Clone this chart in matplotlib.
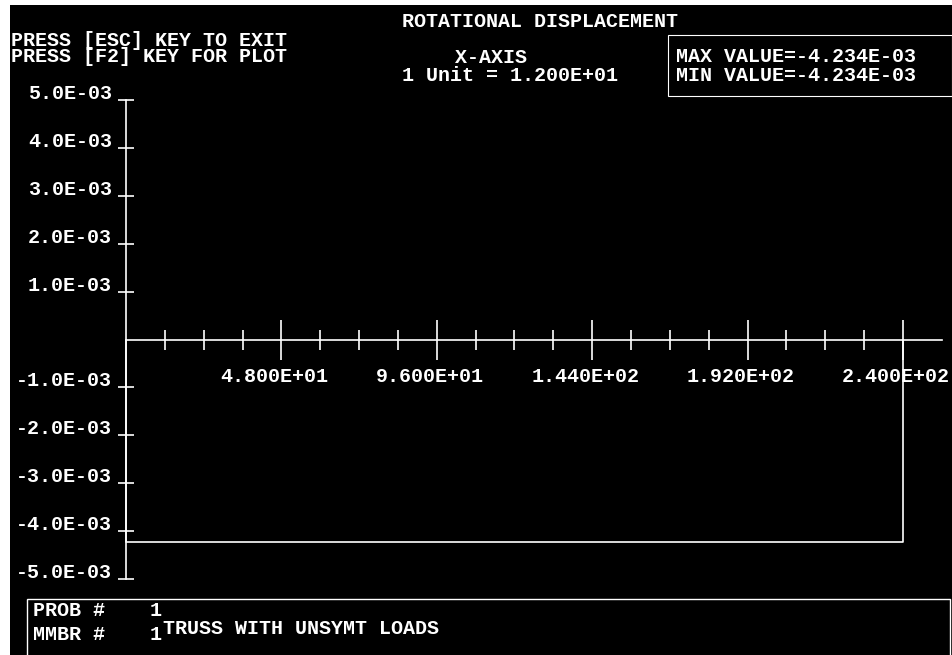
import matplotlib
matplotlib.use('Agg')
import matplotlib.pyplot as plt
from matplotlib.patches import Rectangle

W, H = 953, 655

# values
x_major = [48, 96, 144, 192, 240]
x_major_labels = ['4.800E+01', '9.600E+01', '1.440E+02', '1.920E+02', '2.400E+02']
x_minor = [12, 24, 36, 60, 72, 84, 108, 120, 132, 156, 168, 180, 204, 216, 228]
y_ticks = [5e-3, 4e-3, 3e-3, 2e-3, 1e-3, -1e-3, -2e-3, -3e-3, -4e-3, -5e-3]
y_labels = ['5.0E-03', '4.0E-03', '3.0E-03', '2.0E-03', '1.0E-03',
            '-1.0E-03', '-2.0E-03', '-3.0E-03', '-4.0E-03', '-5.0E-03']
member_x = [0, 0, 240, 240]
member_rot = [0, -4.234e-3, -4.234e-3, 0]

FONT = ['Liberation Mono', 'DejaVu Sans Mono']
FS = 14.4


def fx(px):
    return px / W


def fy(py):
    return 1 - py / H


fig = plt.figure(figsize=(W / 100, H / 100), dpi=100, facecolor='black')

# scan edge (white strip at top and left)
fig.patches.append(Rectangle((0, fy(5)), 1, 5 / H, transform=fig.transFigure,
                             facecolor='white', edgecolor='none'))
fig.patches.append(Rectangle((0, 0), fx(10), 1, transform=fig.transFigure,
                             facecolor='white', edgecolor='none'))

# plot area: x=0 at px 126, x=240 at px 903; y=+5e-3 at px 100, -5e-3 at px 579
ppu = (903 - 126) / 240
ax = fig.add_axes([fx(126), fy(579), (942 - 126) / W, (579 - 100) / H])
ax.set_xlim(0, (942 - 126) / ppu)
ax.set_ylim(-5e-3, 5e-3)
ax.axis('off')

lw = 1.2
ax.plot([0, (942 - 126) / ppu], [0, 0], color='white', lw=lw, clip_on=False)
ax.plot([0, 0], [-5e-3, 5e-3], color='white', lw=lw, clip_on=False)
ax.plot(x_minor, [0] * len(x_minor), ls='none', marker='|', ms=14.4, mew=lw,
        color='white', clip_on=False)
ax.plot(x_major, [0] * len(x_major), ls='none', marker='|', ms=29, mew=lw,
        color='white', clip_on=False)
ax.plot([0] * len(y_ticks), y_ticks, ls='none', marker='_', ms=11.5, mew=lw,
        color='white', clip_on=False)

ax.plot(member_x, member_rot, color='white', lw=lw, clip_on=False)

for v, lab in zip(y_ticks, y_labels):
    ax.annotate(lab, (0, v), xytext=(-14, 1), textcoords='offset pixels',
                ha='right', va='baseline', color='white', fontsize=FS,
                family=FONT, weight='bold')
for v, lab in zip(x_major, x_major_labels):
    ax.annotate(lab, (v, 0), xytext=(-7, -28), textcoords='offset pixels',
                ha='center', va='top', color='white', fontsize=FS,
                family=FONT, weight='bold')


def txt(px, py, s, ha='left', ls=1.0):
    fig.text(fx(px), fy(py), s, ha=ha, va='top', color='white', fontsize=FS,
             family=FONT, weight='bold', linespacing=ls)


txt(540, 12, 'ROTATIONAL DISPLACEMENT', ha='center')
txt(11, 31, 'PRESS [ESC] KEY TO EXIT\nPRESS [F2] KEY FOR PLOT', ls=0.82)
txt(491, 48, 'X-AXIS', ha='center')
txt(510, 66, '1 Unit = 1.200E+01', ha='center')
txt(676, 47, 'MAX VALUE=-4.234E-03\nMIN VALUE=-4.234E-03', ls=1.0)

txt(33, 601, 'PROB #\nMMBR #', ls=1.3)
txt(150, 601, '1\n1', ls=1.3)
txt(163, 619, 'TRUSS WITH UNSYMT LOADS')

# info boxes
fig.patches.append(Rectangle((fx(668), fy(96)), (952 - 668) / W, (96 - 35) / H,
                             transform=fig.transFigure, facecolor='none',
                             edgecolor='white', lw=0.8))
fig.patches.append(Rectangle((fx(27), fy(660)), (950 - 27) / W, (660 - 599) / H,
                             transform=fig.transFigure, facecolor='none',
                             edgecolor='white', lw=1.0))

fig.savefig('out.png', dpi=100, facecolor='black')
